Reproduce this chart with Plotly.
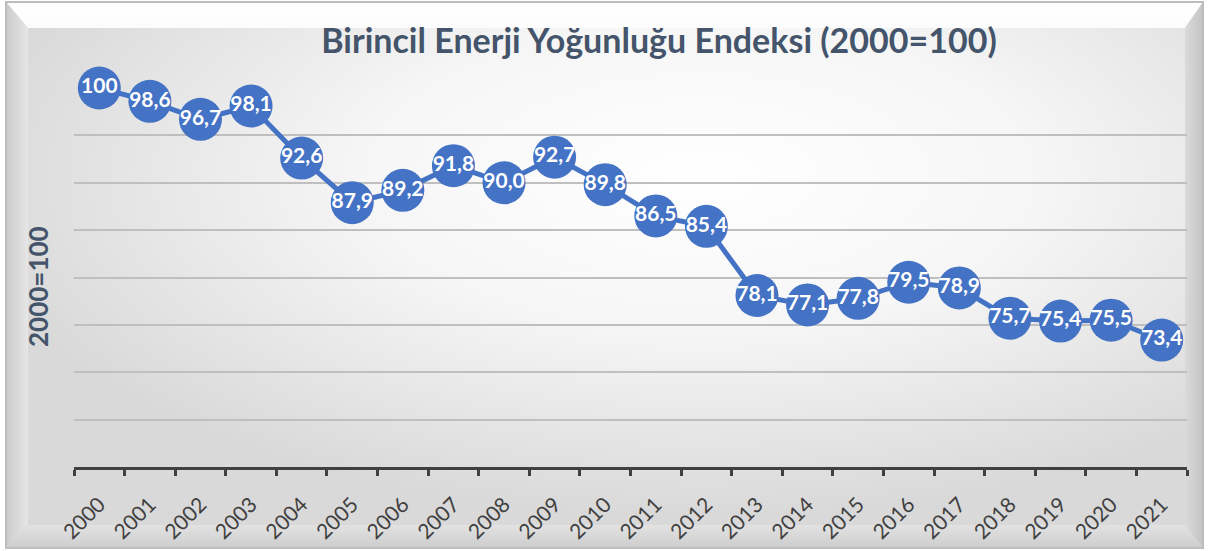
import base64
import plotly.graph_objects as go

years = [str(y) for y in range(2000, 2022)]
values = [100, 98.6, 96.7, 98.1, 92.6, 87.9, 89.2, 91.8, 90.0, 92.7, 89.8,
          86.5, 85.4, 78.1, 77.1, 77.8, 79.5, 78.9, 75.7, 75.4, 75.5, 73.4]
labels = ["100", "98,6", "96,7", "98,1", "92,6", "87,9", "89,2", "91,8", "90,0",
          "92,7", "89,8", "86,5", "85,4", "78,1", "77,1", "77,8", "79,5", "78,9",
          "75,7", "75,4", "75,5", "73,4"]

title_text = "Birincil Enerji Yoğunluğu Endeksi (2000=100)"
ytitle_text = "2000=100"

W, H = 1209, 551
L, R, T, B = 74, 22, 88, 84
PW, PH = W - L - R, H - T - B

BLUE = "#4472C4"

svg = f"""<svg xmlns="http://www.w3.org/2000/svg" width="{W}" height="{H}" viewBox="0 0 {W} {H}">
<defs>
<radialGradient id="g" cx="0.58" cy="0.32" r="0.62" gradientUnits="objectBoundingBox">
<stop offset="0" stop-color="#FFFFFF"/>
<stop offset="0.45" stop-color="#F6F6F6"/>
<stop offset="1" stop-color="#D9D9D9"/>
</radialGradient>
<linearGradient id="lf" x1="0" y1="0" x2="1" y2="0">
<stop offset="0" stop-color="#CBCBCB"/><stop offset="1" stop-color="#E6E6E6"/>
</linearGradient>
<linearGradient id="rt" x1="0" y1="0" x2="1" y2="0">
<stop offset="0" stop-color="#DADADA"/><stop offset="1" stop-color="#C4C4C4"/>
</linearGradient>
<linearGradient id="tp" x1="0" y1="0" x2="0" y2="1">
<stop offset="0" stop-color="#FFFFFF"/><stop offset="1" stop-color="#FCFCFC"/>
</linearGradient>
<linearGradient id="bt" x1="0" y1="0" x2="0" y2="1">
<stop offset="0" stop-color="#E2E2E2"/><stop offset="1" stop-color="#CDCDCD"/>
</linearGradient>
</defs>
<rect x="0" y="0" width="{W}" height="{H}" fill="#FFFFFF"/>
<rect x="6" y="2" width="{W-12}" height="{H-5}" fill="url(#g)"/>
<polygon points="6,2 {W-6},2 {W-24},28 28,28" fill="url(#tp)"/>
<polygon points="6,2 28,28 28,{H-26} 6,{H-3}" fill="url(#lf)"/>
<polygon points="{W-6},2 {W-24},28 {W-24},{H-26} {W-6},{H-3}" fill="url(#rt)"/>
<polygon points="6,{H-3} 28,{H-26} {W-24},{H-26} {W-6},{H-3}" fill="url(#bt)"/>
<rect x="6" y="2" width="{W-12}" height="{H-5}" fill="none" stroke="#BDBDBD" stroke-width="2"/>
</svg>"""
src = "data:image/svg+xml;base64," + base64.b64encode(svg.encode("utf-8")).decode("ascii")

fig = go.Figure()
fig.add_trace(go.Scatter(
    x=years, y=values, text=labels,
    mode="lines+markers+text",
    line=dict(color=BLUE, width=5),
    marker=dict(color=BLUE, size=43, line=dict(width=0)),
    textposition="middle center",
    textfont=dict(family="Lato", size=21, color="#FFFFFF", weight="bold"),
    cliponaxis=False,
    hoverinfo="skip",
    showlegend=False,
))

fig.update_layout(
    width=W, height=H,
    margin=dict(l=L, r=R, t=T, b=B, pad=0),
    paper_bgcolor="#FFFFFF",
    plot_bgcolor="rgba(0,0,0,0)",
    images=[dict(
        source=src, xref="paper", yref="paper",
        x=-L / PW, y=1 + T / PH, sizex=W / PW, sizey=H / PH,
        xanchor="left", yanchor="top", sizing="stretch", layer="below",
    )],
    title=dict(
        text=title_text, x=659 / W, xanchor="center", y=1 - 41 / H, yanchor="middle",
        font=dict(family="Lato", size=34, color="#44546A", weight="bold"),
    ),
    xaxis=dict(
        type="category", range=[-0.5, len(years) - 0.5], autorange=False,
        showgrid=False, tickson="boundaries",
        ticks="outside", ticklen=6, tickwidth=3, tickcolor="#404040",
        showline=True, linecolor="#404040", linewidth=3,
        tickangle=-45, ticklabelstandoff=14,
        tickfont=dict(family="Lato", size=21, color="#404040"),
        automargin=False,
        fixedrange=True,
    ),
    yaxis=dict(
        range=[60, 100], autorange=False, dtick=5, showticklabels=False,
        showgrid=True, gridcolor="#BFBFBF", gridwidth=2,
        zeroline=False, showline=False, ticks="",
        automargin=False,
        fixedrange=True,
    ),
    annotations=[dict(
        text=ytitle_text, textangle=-90, xref="paper", yref="paper",
        x=(38 - L) / PW, y=(H - B - 287) / PH, xanchor="center", yanchor="middle",
        showarrow=False,
        font=dict(family="Lato", size=26, color="#44546A", weight="bold"),
    )],
)

fig.write_html("out.html", config={"displayModeBar": False},
               post_script="document.body.style.margin='0';document.body.style.overflow='hidden';")
